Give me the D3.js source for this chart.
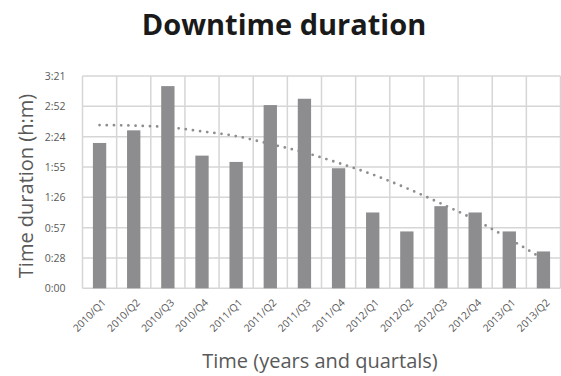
<!DOCTYPE html>
<html><head><meta charset="utf-8">
<script src="https://cdn.jsdelivr.net/npm/d3@7"></script>
<style>body{margin:0;background:#fff;}svg{display:block;}</style>
</head><body>
<script>
const categories = ["2010/Q1","2010/Q2","2010/Q3","2010/Q4","2011/Q1","2011/Q2","2011/Q3","2011/Q4","2012/Q1","2012/Q2","2012/Q3","2012/Q4","2013/Q1","2013/Q2"];
// downtime in minutes
const durations = [138, 150, 192, 126, 120, 174, 180, 114, 72, 54, 78, 72, 54, 35];
// dotted trend line values (minutes)
const trend = [155, 154.5, 153, 149, 144.5, 137, 129, 119, 108, 95, 80.5, 65, 47, 27.5];
const tickValues = [0, 28.8, 57.6, 86.4, 115.2, 144, 172.8, 201.6];
const tickLabels = ["0:00","0:28","0:57","1:26","1:55","2:24","2:52","3:21"];

const W = 561, H = 376;
const m = {left: 82.5, right: 561 - 560.5, top: 76, bottom: 376 - 288.3};
const svg = d3.select("body").append("svg").attr("width", W).attr("height", H);

const x = d3.scaleBand().domain(categories).range([m.left, W - m.right]).paddingInner(0).paddingOuter(0);
const y = d3.scaleLinear().domain([0, 201.6]).range([H - m.bottom, m.top]);

const grid = "#d6d6d6";
svg.append("g").selectAll("line").data(tickValues).join("line")
  .attr("x1", m.left).attr("x2", W - m.right)
  .attr("y1", d => y(d)).attr("y2", d => y(d))
  .attr("stroke", grid).attr("stroke-width", 1.5);
const bounds = categories.map(c => x(c)).concat([x(categories[categories.length-1]) + x.bandwidth()]);
svg.append("g").selectAll("line").data(bounds).join("line")
  .attr("x1", d => d).attr("x2", d => d)
  .attr("y1", m.top).attr("y2", H - m.bottom)
  .attr("stroke", grid).attr("stroke-width", 1.5);

const bw = x.bandwidth() * 0.39;
svg.append("g").selectAll("rect").data(durations).join("rect")
  .attr("x", (d, i) => x(categories[i]) + x.bandwidth()/2 - bw/2)
  .attr("width", bw)
  .attr("y", d => y(d))
  .attr("height", d => y(0) - y(d))
  .attr("fill", "#8d8d90");

const line = d3.line()
  .x((d, i) => x(categories[i]) + x.bandwidth()/2)
  .y(d => y(d))
  .curve(d3.curveMonotoneX);
svg.append("path").datum(trend).attr("d", line)
  .attr("fill", "none").attr("stroke", "#8e8e90").attr("stroke-width", 2.8)
  .attr("stroke-linecap", "round").attr("stroke-dasharray", "0,7.2");

const yAxis = d3.axisLeft(y).tickValues(tickValues).tickFormat((d, i) => tickLabels[i]).tickSize(0).tickPadding(10);
const ya = svg.append("g").attr("transform", `translate(${m.left - 7},0)`).call(yAxis);
ya.select(".domain").remove();
ya.selectAll("text").attr("font-family", "Open Sans, sans-serif").attr("font-size", 10.5).attr("fill", "#595959");

const xAxis = d3.axisBottom(x).tickSize(0).tickPadding(0);
const xa = svg.append("g").attr("transform", `translate(0,${H - m.bottom})`).call(xAxis);
xa.select(".domain").remove();
xa.selectAll("text")
  .attr("font-family", "Open Sans, sans-serif").attr("font-size", 10.3).attr("fill", "#595959")
  .attr("text-anchor", "end").attr("dy", 0).attr("y", 0)
  .attr("transform", "translate(7,15) rotate(-45)");

svg.append("text").attr("x", 284).attr("y", 35).attr("text-anchor", "middle")
  .attr("font-family", "Open Sans, sans-serif").attr("font-weight", "bold").attr("font-size", 29)
  .attr("fill", "#1a1a1a").text("Downtime duration");
svg.append("text").attr("x", 320).attr("y", 368).attr("text-anchor", "middle")
  .attr("font-family", "Open Sans, sans-serif").attr("font-size", 20)
  .attr("fill", "#595959").text("Time (years and quartals)");
svg.append("text").attr("transform", "translate(33,186) rotate(-90)").attr("text-anchor", "middle")
  .attr("font-family", "Open Sans, sans-serif").attr("font-size", 20)
  .attr("fill", "#595959").text("Time duration (h:m)");
</script>
</body></html>
